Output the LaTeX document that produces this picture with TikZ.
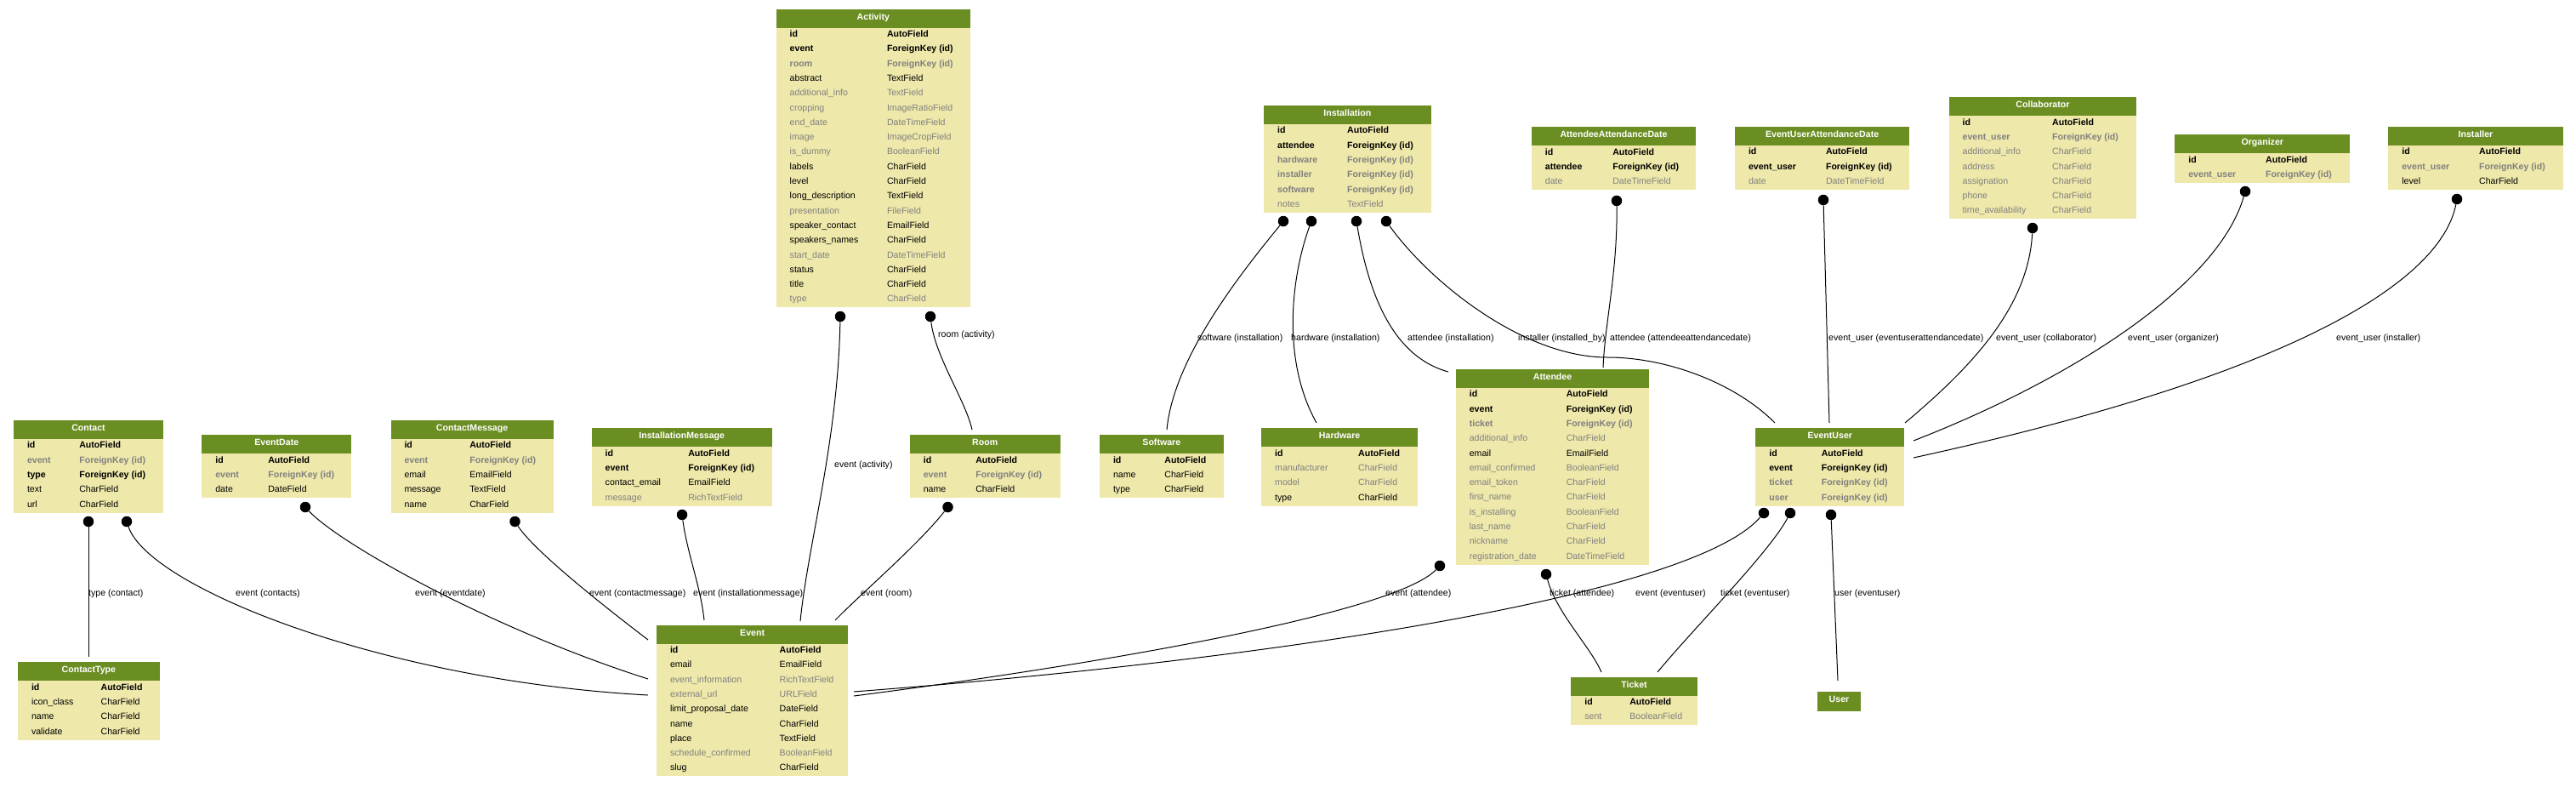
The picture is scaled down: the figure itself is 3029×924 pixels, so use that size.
\documentclass[tikz,border=0pt]{standalone}
\usepackage{fontspec}
\setmainfont{Liberation Sans}
\definecolor{hdrgreen}{HTML}{6B8E23}
\definecolor{bodyyel}{HTML}{EEE8AA}
\definecolor{fldgray}{HTML}{808080}
\newlength\colw
\newcommand\tfnt{\fontsize{10.6pt}{12pt}\selectfont}
\newcommand\rowstrut{\rule[-6.5pt]{0pt}{17.3pt}}
\newcommand\rowB[2]{\makebox[\colw][l]{\bfseries #1}{\bfseries #2}\rowstrut\\}
\newcommand\rowBG[2]{{\color{fldgray}\makebox[\colw][l]{\bfseries #1}{\bfseries #2}}\rowstrut\\}
\newcommand\rowN[2]{\makebox[\colw][l]{#1}#2\rowstrut\\}
\newcommand\rowNG[2]{{\color{fldgray}\makebox[\colw][l]{#1}#2}\rowstrut\\}
\tikzset{
  hdr/.style={fill=hdrgreen, text=white, font=\tfnt\bfseries, minimum height=22pt,
    inner sep=0pt, outer sep=0pt, text height=8pt, text depth=4.8pt},
  bdy/.style={fill=bodyyel, inner sep=0pt, outer sep=0pt},
  rowtxt/.style={anchor=north west, inner sep=0pt, outer sep=0pt, font=\tfnt},
  conn/.style={line width=1pt, black},
  dotn/.style={circle, fill=black, inner sep=0pt, minimum size=12.5pt},
  elabel/.style={anchor=west, inner sep=0pt, font=\tfnt}
}
% #1 name, #2 title, #3 x, #4 y, #5 width, #6 column width, #7 rows, #8 content
\newcommand\dbt[8]{%
  \node[hdr, minimum width=#5pt, anchor=north west] (#1) at (#3,#4) {#2};
  \node[bdy, minimum width=#5pt, minimum height=#7*17.3pt, anchor=north west] (#1-b) at (#1.south west) {};
  \node[rowtxt] (#1-t) at ([xshift=16pt]#1-b.north west)
    {\setlength\colw{#6pt}\begin{tabular}{@{}l@{}}#8\end{tabular}};
}
\begin{document}
\begin{tikzpicture}[x=1pt, y=-1pt]
\useasboundingbox[fill=white] (0,0) rectangle (3029,924);

% ---------- tables ----------
\dbt{activity}{Activity}{912.7}{10.7}{228.3}{114.3}{19}{%
\rowB{id}{AutoField}
\rowB{event}{ForeignKey (id)}
\rowBG{room}{ForeignKey (id)}
\rowN{abstract}{TextField}
\rowNG{additional\_info}{TextField}
\rowNG{cropping}{ImageRatioField}
\rowNG{end\_date}{DateTimeField}
\rowNG{image}{ImageCropField}
\rowNG{is\_dummy}{BooleanField}
\rowN{labels}{CharField}
\rowN{level}{CharField}
\rowN{long\_description}{TextField}
\rowNG{presentation}{FileField}
\rowN{speaker\_contact}{EmailField}
\rowN{speakers\_names}{CharField}
\rowNG{start\_date}{DateTimeField}
\rowN{status}{CharField}
\rowN{title}{CharField}
\rowNG{type}{CharField}}

\dbt{contact}{Contact}{16}{494}{176}{61.3}{5}{%
\rowB{id}{AutoField}
\rowBG{event}{ForeignKey (id)}
\rowB{type}{ForeignKey (id)}
\rowN{text}{CharField}
\rowN{url}{CharField}}

\dbt{eventdate}{EventDate}{237.3}{511.3}{176}{62}{3}{%
\rowB{id}{AutoField}
\rowBG{event}{ForeignKey (id)}
\rowN{date}{DateField}}

\dbt{contactmessage}{ContactMessage}{459.5}{494}{191.2}{76.8}{5}{%
\rowB{id}{AutoField}
\rowBG{event}{ForeignKey (id)}
\rowN{email}{EmailField}
\rowN{message}{TextField}
\rowN{name}{CharField}}

\dbt{installationmessage}{InstallationMessage}{695.7}{503.3}{212}{97.6}{4}{%
\rowB{id}{AutoField}
\rowB{event}{ForeignKey (id)}
\rowN{contact\_email}{EmailField}
\rowNG{message}{RichTextField}}

\dbt{room}{Room}{1069.8}{511.3}{176.8}{61.5}{3}{%
\rowB{id}{AutoField}
\rowBG{event}{ForeignKey (id)}
\rowN{name}{CharField}}

\dbt{software}{Software}{1293}{511.3}{145.6}{60.4}{3}{%
\rowB{id}{AutoField}
\rowN{name}{CharField}
\rowN{type}{CharField}}

\dbt{hardware}{Hardware}{1483.2}{503.3}{183.8}{98}{4}{%
\rowB{id}{AutoField}
\rowNG{manufacturer}{CharField}
\rowNG{model}{CharField}
\rowN{type}{CharField}}

\dbt{attendee}{Attendee}{1711.8}{434}{227.5}{114}{12}{%
\rowB{id}{AutoField}
\rowB{event}{ForeignKey (id)}
\rowBG{ticket}{ForeignKey (id)}
\rowNG{additional\_info}{CharField}
\rowN{email}{EmailField}
\rowNG{email\_confirmed}{BooleanField}
\rowNG{email\_token}{CharField}
\rowNG{first\_name}{CharField}
\rowNG{is\_installing}{BooleanField}
\rowNG{last\_name}{CharField}
\rowNG{nickname}{CharField}
\rowNG{registration\_date}{DateTimeField}}

\dbt{eventuser}{EventUser}{2064.3}{503.3}{175}{61.5}{4}{%
\rowB{id}{AutoField}
\rowB{event}{ForeignKey (id)}
\rowBG{ticket}{ForeignKey (id)}
\rowBG{user}{ForeignKey (id)}}

\dbt{installation}{Installation}{1486.2}{124}{196.3}{82}{6}{%
\rowB{id}{AutoField}
\rowB{attendee}{ForeignKey (id)}
\rowBG{hardware}{ForeignKey (id)}
\rowBG{installer}{ForeignKey (id)}
\rowBG{software}{ForeignKey (id)}
\rowNG{notes}{TextField}}

\dbt{aad}{AttendeeAttendanceDate}{1800.9}{149.3}{193.2}{79.4}{3}{%
\rowB{id}{AutoField}
\rowB{attendee}{ForeignKey (id)}
\rowNG{date}{DateTimeField}}

\dbt{euad}{EventUserAttendanceDate}{2040}{149}{205.2}{91}{3}{%
\rowB{id}{AutoField}
\rowB{event\_user}{ForeignKey (id)}
\rowNG{date}{DateTimeField}}

\dbt{collaborator}{Collaborator}{2291.6}{114.3}{220.7}{105.6}{7}{%
\rowB{id}{AutoField}
\rowBG{event\_user}{ForeignKey (id)}
\rowNG{additional\_info}{CharField}
\rowNG{address}{CharField}
\rowNG{assignation}{CharField}
\rowNG{phone}{CharField}
\rowNG{time\_availability}{CharField}}

\dbt{organizer}{Organizer}{2557.3}{158.3}{205.9}{90.8}{2}{%
\rowB{id}{AutoField}
\rowBG{event\_user}{ForeignKey (id)}}

\dbt{installer}{Installer}{2808.3}{149}{205.3}{90.8}{3}{%
\rowB{id}{AutoField}
\rowBG{event\_user}{ForeignKey (id)}
\rowN{level}{CharField}}

\dbt{contacttype}{ContactType}{21}{778.3}{166.7}{81.6}{4}{%
\rowB{id}{AutoField}
\rowN{icon\_class}{CharField}
\rowN{name}{CharField}
\rowN{validate}{CharField}}

\dbt{event}{Event}{772}{734.7}{225.3}{128.7}{9}{%
\rowB{id}{AutoField}
\rowN{email}{EmailField}
\rowNG{event\_information}{RichTextField}
\rowNG{external\_url}{URLField}
\rowN{limit\_proposal\_date}{DateField}
\rowN{name}{CharField}
\rowN{place}{TextField}
\rowNG{schedule\_confirmed}{BooleanField}
\rowN{slug}{CharField}}

\dbt{ticket}{Ticket}{1847.3}{795.7}{148.4}{53}{2}{%
\rowB{id}{AutoField}
\rowNG{sent}{BooleanField}}

\node[hdr, minimum width=51pt, minimum height=23pt, anchor=north west] (user) at (2137,812.7) {User};

% ---------- dots ----------
\node[dotn] (d-act-ev) at (988,372) {};
\node[dotn] (d-act-room) at (1094,372) {};
\node[dotn] (d-inst-sw) at (1509,260) {};
\node[dotn] (d-inst-hw) at (1542,260) {};
\node[dotn] (d-inst-att) at (1595,260) {};
\node[dotn] (d-inst-eu) at (1630,260) {};
\node[dotn] (d-aad) at (1901,236) {};
\node[dotn] (d-euad) at (2144,235) {};
\node[dotn] (d-coll) at (2390,268) {};
\node[dotn] (d-org) at (2640,225) {};
\node[dotn] (d-instr) at (2889,234) {};
\node[dotn] (d-con-ct) at (104,613) {};
\node[dotn] (d-con-ev) at (149,613) {};
\node[dotn] (d-ed) at (359,596) {};
\node[dotn] (d-cm) at (605.5,613) {};
\node[dotn] (d-im) at (802,605) {};
\node[dotn] (d-room) at (1114.5,596) {};
\node[dotn] (d-att-ev) at (1693,665) {};
\node[dotn] (d-att-tk) at (1818,675) {};
\node[dotn] (d-eu-ev) at (2074,603) {};
\node[dotn] (d-eu-tk) at (2105,603) {};
\node[dotn] (d-eu-us) at (2153,605) {};

% ---------- end points ----------
\coordinate (e-act-ev) at (941,730);
\coordinate (e-act-room) at (1143,505);
\coordinate (e-sw) at (1372,505);
\coordinate (e-hw) at (1548,497);
\coordinate (e-att-inst) at (1703,437);
\coordinate (m-eu-inst) at (1890,420);
\coordinate (e-eu-inst) at (2087,497);
\coordinate (e-aad) at (1885,432);
\coordinate (e-euad) at (2151,497);
\coordinate (e-coll) at (2240,497);
\coordinate (e-org) at (2250,518);
\coordinate (e-instr) at (2250,538);
\coordinate (e-ct) at (104,772);
\coordinate (e-con-ev) at (762,817);
\coordinate (e-ed) at (762,798);
\coordinate (e-cm) at (762,752);
\coordinate (e-im) at (828,729);
\coordinate (e-room) at (982,729);
\coordinate (e-att-ev) at (1004,818);
\coordinate (e-att-tk) at (1883,790);
\coordinate (e-eu-ev) at (1004,813);
\coordinate (e-eu-tk) at (1949,790);
\coordinate (e-eu-us) at (2161,800);

% ---------- connectors ----------
\draw[conn] (d-act-ev) .. controls (985,520) and (950,640) .. (e-act-ev);
\draw[conn] (d-act-room) .. controls (1100,420) and (1135,470) .. (e-act-room);
\draw[conn] (d-inst-sw) .. controls (1460,320) and (1380,420) .. (e-sw);
\draw[conn] (d-inst-hw) .. controls (1520,320) and (1505,420) .. (e-hw);
\draw[conn] (d-inst-att) .. controls (1610,350) and (1640,420) .. (e-att-inst);
\draw[conn] (d-inst-eu) .. controls (1680,330) and (1790,420) .. (m-eu-inst)
                        .. controls (1960,420) and (2040,450) .. (e-eu-inst);
\draw[conn] (d-aad) .. controls (1902,320) and (1887,380) .. (e-aad);
\draw[conn] (d-euad) -- (e-euad);
\draw[conn] (d-coll) .. controls (2385,360) and (2320,430) .. (e-coll);
\draw[conn] (d-org) .. controls (2610,330) and (2450,440) .. (e-org);
\draw[conn] (d-instr) .. controls (2870,330) and (2700,440) .. (e-instr);
\draw[conn] (d-con-ct) -- (e-ct);
\draw[conn] (d-con-ev) .. controls (175,690) and (450,800) .. (e-con-ev);
\draw[conn] (d-ed) .. controls (400,640) and (580,740) .. (e-ed);
\draw[conn] (d-cm) .. controls (630,650) and (720,720) .. (e-cm);
\draw[conn] (d-im) .. controls (808,650) and (824,690) .. (e-im);
\draw[conn] (d-room) .. controls (1080,640) and (1010,700) .. (e-room);
\draw[conn] (d-att-ev) .. controls (1640,720) and (1300,780) .. (e-att-ev);
\draw[conn] (d-att-tk) .. controls (1830,720) and (1870,760) .. (e-att-tk);
\draw[conn] (d-eu-ev) .. controls (1990,700) and (1500,775) .. (e-eu-ev);
\draw[conn] (d-eu-tk) .. controls (2080,650) and (1990,740) .. (e-eu-tk);
\draw[conn] (d-eu-us) -- (e-eu-us);

% ---------- labels ----------
\node[elabel] (l1) at (1408,398) {software (installation)};
\node[elabel] (l2) at (1518,398) {hardware (installation)};
\node[elabel] (l3) at (1655,398) {attendee (installation)};
\node[elabel] (l4) at (1785,398) {installer (installed\_by)};
\node[elabel] (l5) at (1893,398) {attendee (attendeeattendancedate)};
\node[elabel] (l6) at (2150,398) {event\_user (eventuserattendancedate)};
\node[elabel] (l7) at (2347,398) {event\_user (collaborator)};
\node[elabel] (l8) at (2502,398) {event\_user (organizer)};
\node[elabel] (l9) at (2747,398) {event\_user (installer)};
\node[elabel] (l10) at (1103,394) {room (activity)};
\node[elabel] (l11) at (981,547) {event (activity)};
\node[elabel] (l12) at (104,698) {type (contact)};
\node[elabel] (l13) at (277,698) {event (contacts)};
\node[elabel] (l14) at (488,698) {event (eventdate)};
\node[elabel] (l15) at (693,698) {event (contactmessage)};
\node[elabel] (l16) at (815,698) {event (installationmessage)};
\node[elabel] (l17) at (1012,698) {event (room)};
\node[elabel] (l18) at (1629,698) {event (attendee)};
\node[elabel] (l19) at (1822,698) {ticket (attendee)};
\node[elabel] (l20) at (1923,698) {event (eventuser)};
\node[elabel] (l21) at (2023,698) {ticket (eventuser)};
\node[elabel] (l22) at (2157,698) {user (eventuser)};
\end{tikzpicture}
\end{document}
